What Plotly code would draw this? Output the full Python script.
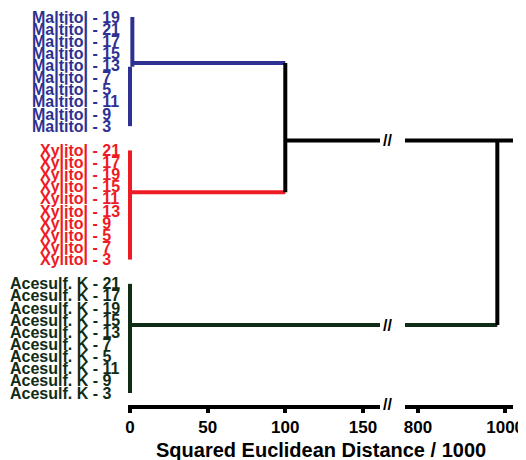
import plotly.graph_objects as go

# ---- data ----
group_names = ["Maltitol", "Xylitol", "Acesulf. K"]
maltitol_leaves = ["19", "21", "17", "15", "13", "7", "5", "11", "9", "3"]
xylitol_leaves = ["21", "17", "19", "15", "11", "13", "9", "5", "7", "3"]
acesulf_leaves = ["21", "17", "19", "15", "13", "7", "5", "11", "9", "3"]
group_leaves = [maltitol_leaves, xylitol_leaves, acesulf_leaves]
group_colors = ["#2e3192", "#ed1c24", "#102c16"]
group_inner_height = [1.5, 0.5, 0.5]      # within-group linkage distance (x1000)
group_join_offset = [3.8, 3.45, 3.4]       # leaf-position of the group's link
merge1_height = 100                        # Maltitol + Xylitol
merge1_pos_frac = 0.6
merge2_height = 982                        # (Maltitol+Xylitol) + Acesulf. K
left_ticks = [0, 50, 100, 150]
right_ticks = [800, 1000]

# ---- page geometry (browser body has an 8px margin) ----
OFF = 8
PW, PH = 526, 460
W, H = PW - OFF, PH - OFF
def fx(px):  # page px -> figure px
    return px - OFF

L, R = fx(128), fx(513)
T, B = fx(11), fx(405)
pw, ph = R - L, B - T
label_left_px = [30, 38, 8]

# ---- layout of leaves ----
gap = 1
group_start, join_y = [], []
pos = 0
for g, leaves in enumerate(group_leaves):
    group_start.append(pos)
    pos += len(leaves)
    join_y.append(group_start[g] + group_join_offset[g])
    pos += gap
n_last = pos - gap - 1
sp = (393 - 17) / n_last
y_top = 0 - (17 - 11) / sp
y_bot = n_last + (405 - 393) / sp

fig = go.Figure()
LW = 4

def seg(xs, ys, color, axis="x"):
    fig.add_trace(go.Scatter(x=xs, y=ys, mode="lines", xaxis=axis, yaxis="y",
                             line=dict(color=color, width=LW), hoverinfo="skip",
                             showlegend=False))

for g, leaves in enumerate(group_leaves):
    s = group_start[g]
    e = s + len(leaves) - 1
    h = group_inner_height[g]
    col = group_colors[g]
    if h > 1:
        seg([h, h], [s, join_y[g] + 0.3], col)
        seg([0, 0], [join_y[g] + 0.3, e], col)
    else:
        seg([0, 0], [s, e], col)

for g in (0, 1):
    seg([group_inner_height[g], merge1_height], [join_y[g], join_y[g]], group_colors[g])
seg([merge1_height, merge1_height], [join_y[0], join_y[1]], "black")
m1y = join_y[0] + merge1_pos_frac * (join_y[1] - join_y[0])
seg([merge1_height, 1e4], [m1y, m1y], "black")
seg([0, 1e4], [m1y, m1y], "black", "x2")
seg([group_inner_height[2], 1e4], [join_y[2], join_y[2]], group_colors[2])
seg([0, merge2_height], [join_y[2], join_y[2]], group_colors[2], "x2")
seg([merge2_height, merge2_height], [m1y, join_y[2]], "black", "x2")

font_fam = "Arial, Liberation Sans, sans-serif"
axis_style = dict(showline=True, linewidth=4, linecolor="black", ticks="outside",
                  ticklen=4, tickwidth=4, tickcolor="black", showgrid=False,
                  zeroline=False, anchor="y",
                  tickfont=dict(family=font_fam, size=17, color="black", weight="bold"))

fig.update_layout(
    width=W, height=H, margin=dict(l=L, r=W - R, t=T, b=H - B, pad=0),
    plot_bgcolor="white", paper_bgcolor="white",
    xaxis=dict(domain=[0, (fx(380) - L) / pw], range=[-1.3, 161], tickvals=left_ticks, **axis_style),
    xaxis2=dict(domain=[(fx(405) - L) / pw, 1], range=[770, 1018], tickvals=right_ticks, **axis_style),
    yaxis=dict(range=[y_bot, y_top], showline=False, showticklabels=False,
               showgrid=False, zeroline=False, ticks="", anchor="x"),
)

for g, leaves in enumerate(group_leaves):
    for i, lf in enumerate(leaves):
        fig.add_annotation(x=(fx(label_left_px[g]) - L) / pw, y=group_start[g] + i,
                           xref="paper", yref="y", xanchor="left", yanchor="middle",
                           text=f"<b>{group_names[g]} - {lf}</b>", showarrow=False,
                           font=dict(family=font_fam, size=16, color=group_colors[g]))

brk_x = (fx(394) - L) / pw
for yv in (m1y, join_y[2]):
    fig.add_annotation(x=brk_x, y=yv, xref="paper", yref="y", text="<b>//</b>",
                       showarrow=False, font=dict(family=font_fam, size=16, color="black"))
fig.add_annotation(x=brk_x, y=-(fx(404) - B) / ph, xref="paper", yref="paper",
                   text="<b>//</b>", showarrow=False, yanchor="middle",
                   font=dict(family=font_fam, size=16, color="black"))
fig.add_annotation(x=(fx(321) - L) / pw, y=-(fx(450) - B) / ph, xref="paper", yref="paper",
                   text="<b>Squared Euclidean Distance / 1000</b>", showarrow=False,
                   yanchor="middle", font=dict(family=font_fam, size=20, color="black"))

fig.write_html("out.html")
